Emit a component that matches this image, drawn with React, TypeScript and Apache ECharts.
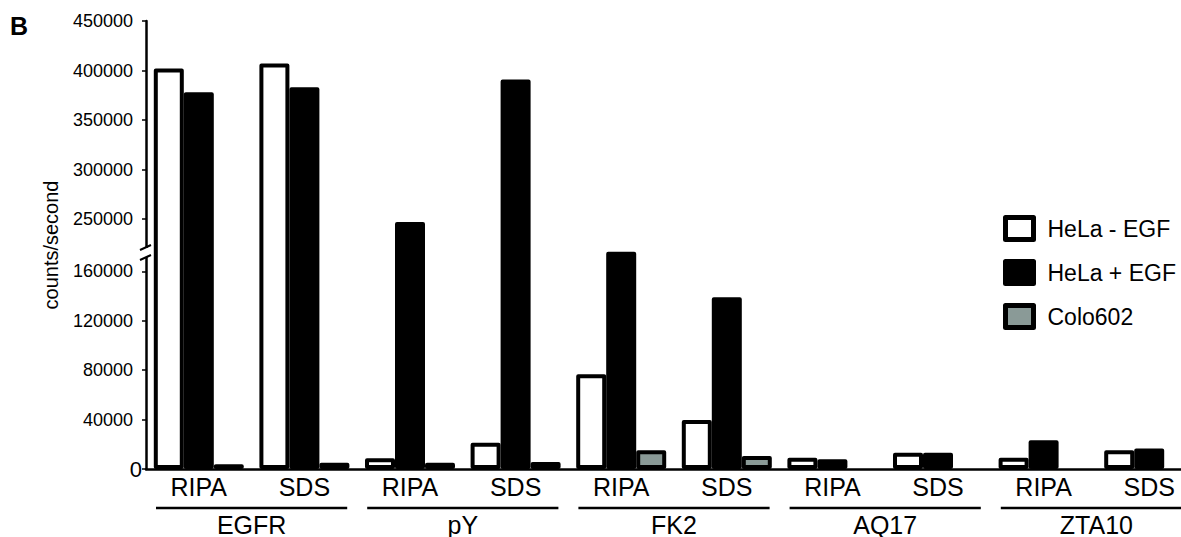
import React, { useEffect, useRef } from 'react';
import * as echarts from 'echarts';

// ---- data ----
const CATEGORIES = ['RIPA', 'SDS', 'RIPA', 'SDS', 'RIPA', 'SDS', 'RIPA', 'SDS', 'RIPA', 'SDS'];
const GROUPS = ['EGFR', 'pY', 'FK2', 'AQ17', 'ZTA10'];
const SERIES_NAMES = ['HeLa - EGF', 'HeLa + EGF', 'Colo602'];
const HELA_MINUS_EGF = [402000, 407000, 8700, 21300, 76800, 39600, 9100, 13200, 9100, 15100];
const HELA_PLUS_EGF = [378000, 383000, 247000, 391000, 176000, 139000, 7800, 13200, 23200, 16700];
const COLO602 = [3800, 5100, 5100, 5700, 15100, 10500, null, null, null, null];
const LOWER_TICKS = [0, 40000, 80000, 120000, 160000];
const UPPER_TICKS = [250000, 300000, 350000, 400000, 450000];

// ---- broken axis: lower segment 0..180000, upper segment 222000..450000 (compressed) ----
const LOWER_END = 180000;
const UPPER_START = 222000;
const UPPER_RATIO = 0.8018;
const AXIS_TOP = 450000;

const T = (v: number | null): number | null => {
  if (v == null) return null;
  if (v <= LOWER_END) return v;
  if (v >= UPPER_START) return LOWER_END + (v - UPPER_START) * UPPER_RATIO;
  return LOWER_END;
};

const FONT = '"Liberation Sans", Arial, Helvetica, sans-serif';
const ALL_TICKS = [...LOWER_TICKS, ...UPPER_TICKS];

export default function App() {
  const ref = useRef<HTMLDivElement>(null);

  useEffect(() => {
    if (!ref.current) return;
    const chart = echarts.init(ref.current, null, { renderer: 'svg' });
    const tickValues = ALL_TICKS.map((t) => T(t) as number);

    const barBase = {
      type: 'bar',
      barWidth: 30,
      barGap: '0%',
      silent: true,
      xAxisIndex: 0,
      yAxisIndex: 0,
    };

    chart.setOption({
      animation: false,
      textStyle: { fontFamily: FONT, color: '#000' },
      grid: { left: 146, top: 21, width: 1056, height: 449, containLabel: false },
      xAxis: [
        {
          type: 'category',
          data: CATEGORIES,
          axisLine: { show: true, lineStyle: { color: '#000', width: 2.5 } },
          axisTick: { show: false },
          axisLabel: { interval: 0, fontSize: 25, color: '#000', margin: 5, fontFamily: FONT },
          splitLine: { show: false },
        },
        {
          type: 'category',
          data: GROUPS,
          position: 'bottom',
          offset: 40,
          axisLine: { show: false },
          axisTick: { show: false },
          axisLabel: { interval: 0, fontSize: 25, color: '#000', margin: 3, fontFamily: FONT },
          splitLine: { show: false },
        },
      ],
      yAxis: {
        type: 'value',
        min: 0,
        max: T(AXIS_TOP),
        name: 'counts/second',
        nameLocation: 'middle',
        nameGap: 85,
        nameTextStyle: { fontSize: 20, color: '#000', fontFamily: FONT },
        axisLine: { show: true, lineStyle: { color: '#000', width: 2.5 } },
        axisTick: { show: true, length: 4, customValues: tickValues, lineStyle: { color: '#000', width: 1.5 } },
        splitLine: { show: false },
        axisLabel: {
          customValues: tickValues,
          margin: 4,
          formatter: (val: number) => {
            const t = ALL_TICKS.find((x) => Math.abs((T(x) as number) - val) < 0.5);
            if (t === undefined) return '';
            return t === 0 ? '{z|0}' : `{n|${t}}`;
          },
          rich: {
            n: { fontSize: 18, color: '#000', fontFamily: FONT, padding: [0, 9, 0, 0] },
            z: { fontSize: 22, color: '#000', fontFamily: FONT },
          },
        },
      },
      legend: {
        orient: 'vertical',
        left: 1003,
        top: 215,
        padding: 0,
        itemWidth: 28,
        itemHeight: 22,
        itemGap: 17,
        icon: 'rect',
        selectedMode: false,
        data: SERIES_NAMES,
        itemStyle: { borderColor: '#000', borderWidth: 5, borderJoin: 'round' },
        textStyle: { fontSize: 23, color: '#000', fontFamily: FONT, padding: [0, 0, 0, 9] },
      },
      series: [
        {
          ...barBase,
          name: SERIES_NAMES[0],
          data: HELA_MINUS_EGF.map(T),
          itemStyle: { color: '#ffffff', borderColor: '#000', borderWidth: 4, borderJoin: 'round' },
        },
        {
          ...barBase,
          name: SERIES_NAMES[1],
          data: HELA_PLUS_EGF.map(T),
          itemStyle: { color: '#000000', borderColor: '#000', borderWidth: 4, borderJoin: 'round' },
        },
        {
          ...barBase,
          name: SERIES_NAMES[2],
          data: COLO602.map(T),
          itemStyle: { color: '#8a9a97', borderColor: '#000', borderWidth: 4, borderJoin: 'round' },
        },
        {
          type: 'custom',
          name: 'group-underline',
          xAxisIndex: 1,
          yAxisIndex: 0,
          silent: true,
          clip: false,
          data: GROUPS.map((_, i) => [i, 0]),
          renderItem: (params: any, api: any) => {
            const p = api.coord([api.value(0), 0]);
            const w = api.size([1, 0])[0];
            return {
              type: 'line',
              shape: { x1: p[0] - w / 2 + 10, y1: p[1] + 39, x2: p[0] + w / 2 - 10, y2: p[1] + 39 },
              style: { stroke: '#000', lineWidth: 2.5 },
            };
          },
        },
      ],
      graphic: [
        {
          type: 'text',
          left: 10,
          top: 13,
          z: 100,
          style: { text: 'B', fontSize: 25, fontWeight: 'bold', fill: '#000', fontFamily: FONT },
        },
        {
          type: 'rect',
          z: 100,
          shape: { x: 139, y: 248, width: 11, height: 9 },
          style: { fill: '#fff' },
        },
        {
          type: 'line',
          z: 101,
          shape: { x1: 140, y1: 250, x2: 151, y2: 245 },
          style: { stroke: '#000', lineWidth: 2 },
        },
        {
          type: 'line',
          z: 101,
          shape: { x1: 140, y1: 260, x2: 151, y2: 255 },
          style: { stroke: '#000', lineWidth: 2 },
        },
      ],
    });

    return () => chart.dispose();
  }, []);

  return (
    <div
      style={{
        position: 'fixed',
        left: 0,
        top: 0,
        width: 1181,
        height: 537,
        overflow: 'hidden',
        background: '#fff',
      }}
    >
      <div ref={ref} style={{ position: 'absolute', left: 0, top: 0, width: 1230, height: 537 }} />
    </div>
  );
}
